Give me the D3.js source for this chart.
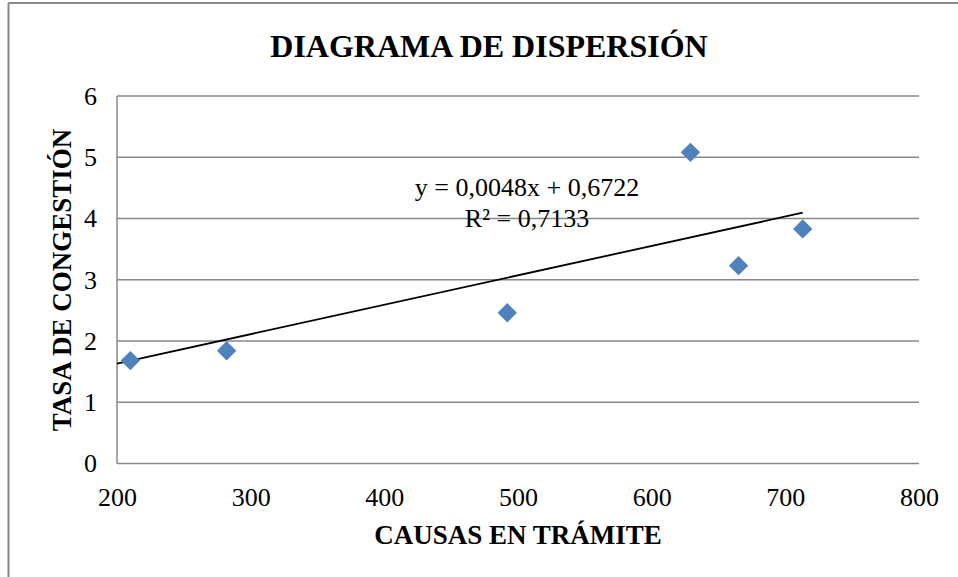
<!DOCTYPE html>
<html>
<head>
<meta charset="utf-8">
<script src="https://cdn.jsdelivr.net/npm/d3@7"></script>
<style>
html,body{margin:0;padding:0;background:#fff;}
svg{display:block;}
svg text{font-family:"Liberation Serif","Times New Roman",serif;fill:#000;}
</style>
</head>
<body>
<svg id="chart" width="958" height="577"></svg>
<script>
const causas = [210, 282, 492, 629, 665, 713];
const tasa = [1.68, 1.84, 2.46, 5.08, 3.23, 3.83];
const xTicks = [200, 300, 400, 500, 600, 700, 800];
const yTicks = [0, 1, 2, 3, 4, 5, 6];
const slope = 0.0048, intercept = 0.6722;
const trendX = [200, 713];
const eqText = ["y = 0,0048x + 0,6722", "R² = 0,7133"];
const title = "DIAGRAMA DE DISPERSIÓN";
const xTitle = "CAUSAS EN TRÁMITE";
const yTitle = "TASA DE CONGESTIÓN";

const svg = d3.select("#chart");
const L = 117, R = 919, T = 96, B = 463.5;
const x = d3.scaleLinear().domain([200, 800]).range([L, R]);
const y = d3.scaleLinear().domain([0, 6]).range([B, T]);

// outer frame (left & top only visible)
svg.append("line").attr("x1", 8.5).attr("x2", 8.5).attr("y1", 3).attr("y2", 577).attr("stroke", "#888").attr("stroke-width", 2);
svg.append("line").attr("x1", 8.5).attr("x2", 958).attr("y1", 3).attr("y2", 3).attr("stroke", "#888").attr("stroke-width", 2);

// gridlines
svg.append("g").selectAll("line").data(yTicks.filter(d => d > 0)).join("line")
  .attr("x1", L).attr("x2", R).attr("y1", d => y(d)).attr("y2", d => y(d))
  .attr("stroke", "#888").attr("stroke-width", 1.5);

// axes lines
svg.append("line").attr("x1", L).attr("x2", L).attr("y1", T).attr("y2", B).attr("stroke", "#888").attr("stroke-width", 1.5);
svg.append("line").attr("x1", L).attr("x2", R).attr("y1", B).attr("y2", B).attr("stroke", "#888").attr("stroke-width", 1.5);

// tick labels via axes
const yAxis = svg.append("g").attr("transform", `translate(${L},0)`)
  .call(d3.axisLeft(y).tickValues(yTicks).tickFormat(d3.format("d")).tickSize(0).tickPadding(20));
yAxis.attr("font-family", null).attr("font-size", null);
yAxis.select(".domain").remove();
yAxis.selectAll("text").attr("font-family", "Liberation Serif").style("font-size", "26px");

const xAxis = svg.append("g").attr("transform", `translate(0,${B})`)
  .call(d3.axisBottom(x).tickValues(xTicks).tickFormat(d3.format("d")).tickSize(0).tickPadding(0));
xAxis.attr("font-family", null).attr("font-size", null);
xAxis.select(".domain").remove();
xAxis.selectAll("text").attr("dy", null).attr("y", 42).attr("font-family", "Liberation Serif").style("font-size", "26px");

// trendline
svg.append("line")
  .attr("x1", x(trendX[0])).attr("y1", y(slope * trendX[0] + intercept))
  .attr("x2", x(trendX[1])).attr("y2", y(slope * trendX[1] + intercept))
  .attr("stroke", "#000").attr("stroke-width", 1.8);

// points (diamonds)
const sym = d3.symbol().type(d3.symbolDiamond2).size(240);
svg.append("g").selectAll("path").data(causas.map((c, i) => [c, tasa[i]])).join("path")
  .attr("d", sym)
  .attr("transform", d => `translate(${x(d[0])},${y(d[1])})`)
  .attr("fill", "#4F81BD");

// equation
const eq = svg.append("g").style("font-size", "26px");
eq.append("text").attr("x", 527).attr("y", 196).attr("text-anchor", "middle").text(eqText[0]);
eq.append("text").attr("x", 527).attr("y", 227).attr("text-anchor", "middle").text(eqText[1]);

// titles
svg.append("text").attr("x", 489).attr("y", 57).attr("text-anchor", "middle").style("font-size", "32px").attr("font-weight", "bold").text(title);
svg.append("text").attr("x", 518).attr("y", 544).attr("text-anchor", "middle").style("font-size", "27px").attr("font-weight", "bold").text(xTitle);
svg.append("text").attr("transform", "translate(71,280) rotate(-90)").attr("text-anchor", "middle").style("font-size", "27px").attr("font-weight", "bold").text(yTitle);
</script>
</body>
</html>
